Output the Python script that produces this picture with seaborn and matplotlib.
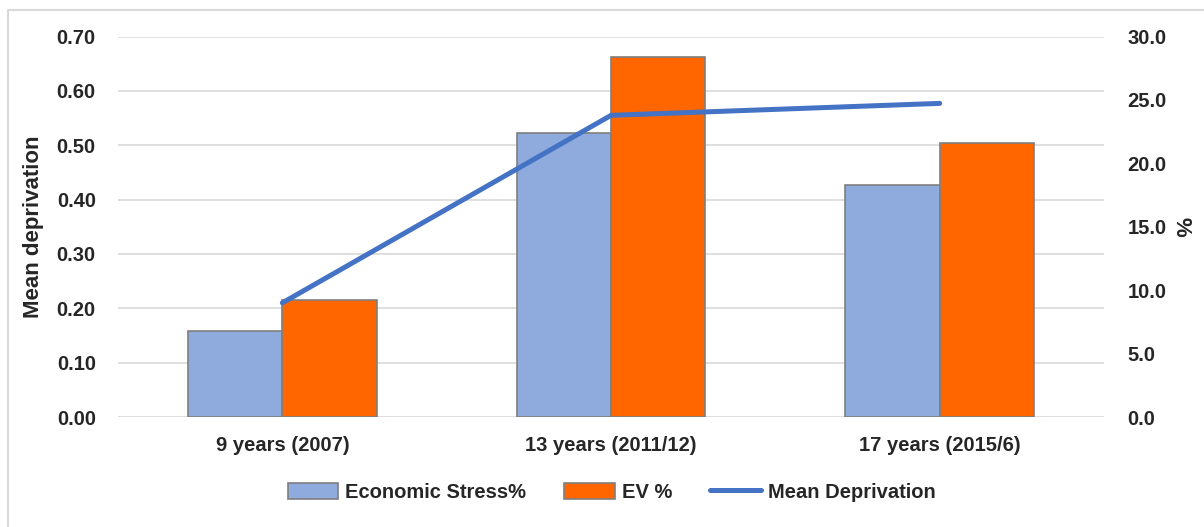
import matplotlib
matplotlib.use("Agg")
import matplotlib.pyplot as plt
import seaborn as sns
import pandas as pd
from matplotlib.patches import Patch
from matplotlib.lines import Line2D

# data
categories = ["9 years (2007)", "13 years (2011/12)", "17 years (2015/6)"]
economic_stress = [6.8, 22.4, 18.3]
ev_pct = [9.2, 28.4, 21.6]
mean_deprivation = [0.21, 0.555, 0.577]

series_names = ["Economic Stress%", "EV %"]
bar_colors = ["#8faadc", "#ff6600"]
line_color = "#4472c4"
pct_ticks = [0, 5, 10, 15, 20, 25, 30]
dep_ticks = [0.0, 0.1, 0.2, 0.3, 0.4, 0.5, 0.6, 0.7]

df = pd.DataFrame({
    "category": categories * 2,
    "series": [series_names[0]] * 3 + [series_names[1]] * 3,
    "value": economic_stress + ev_pct,
})

sns.set_theme(style="white")
plt.rcParams["font.family"] = ["Liberation Sans", "DejaVu Sans"]
plt.rcParams["font.weight"] = "bold"
FS = 14.5

fig = plt.figure(figsize=(12.04, 5.27), dpi=100)

# bottom layer: mean deprivation scale, ticks on the left, gridlines
ax = fig.add_axes([0.098, 0.2087, 0.819, 0.722])
# middle layer: bars on the % scale, ticks on the right
axb = ax.twinx()
# top layer: the mean deprivation line
axl = ax.twinx()
ax.set_zorder(0)
axb.set_zorder(1)
axl.set_zorder(2)
axb.patch.set_visible(False)
axl.patch.set_visible(False)

ax.set_ylim(0, 0.70)
ax.set_yticks(dep_ticks)
ax.set_yticklabels([f"{v:.2f}" for v in dep_ticks], fontweight="bold")
ax.set_ylabel("Mean deprivation", fontsize=16, fontweight="bold", labelpad=9)
ax.grid(axis="y", color="#d9d9d9", linewidth=1.2)
ax.grid(axis="x", visible=False)
ax.tick_params(axis="y", length=0, pad=16, labelsize=FS)

sns.barplot(data=df, x="category", y="value", hue="series", order=categories,
            hue_order=series_names, palette=bar_colors, width=0.574,
            edgecolor="#7f7f7f", linewidth=1.2, saturation=1, ax=axb, legend=False)
axb.set_xlim(-0.5, 2.5)
axb.set_ylim(0, 30)
axb.set_yticks(pct_ticks)
axb.set_yticklabels([f"{v:.1f}" for v in pct_ticks], fontweight="bold")
axb.set_ylabel("%", fontsize=16, fontweight="bold", rotation=270, labelpad=18)
axb.set_xlabel("")
axb.grid(False)
axb.tick_params(axis="y", length=0, pad=17, labelsize=FS)

ax.set_xlim(-0.5, 2.5)
ax.set_xticks(range(len(categories)))
ax.set_xticklabels(categories, fontweight="bold")
ax.tick_params(axis="x", length=0, pad=14, labelsize=FS)

sns.lineplot(x=list(range(len(categories))), y=mean_deprivation, color=line_color,
             linewidth=3.6, ax=axl)
axl.set_xlim(-0.5, 2.5)
axl.set_ylim(0, 0.70)
axl.set_yticks([])
axl.set_ylabel("")
axl.grid(False)

for a in (ax, axb, axl):
    for s in a.spines.values():
        s.set_visible(False)
axb.tick_params(axis="x", bottom=False, labelbottom=False)
axl.tick_params(axis="x", bottom=False, labelbottom=False)

handles = [
    Patch(facecolor=bar_colors[0], edgecolor="#7f7f7f", linewidth=1.2),
    Patch(facecolor=bar_colors[1], edgecolor="#7f7f7f", linewidth=1.2),
    Line2D([0], [0], color=line_color, linewidth=3.6),
]
fig.legend(handles, series_names + ["Mean Deprivation"], loc="center",
           bbox_to_anchor=(0.508, 0.066), ncol=3, frameon=False,
           prop={"size": FS, "weight": "bold"}, handlelength=2.5,
           handleheight=0.85, handletextpad=0.35, columnspacing=1.9)

# chart-area border: only the left and top edges show in the crop
fig.add_artist(Line2D([8 / 1204, 8 / 1204, 1.0], [0.0, 1 - 10 / 527, 1 - 10 / 527],
                      transform=fig.transFigure, color="#d9d9d9", linewidth=1.5))

fig.savefig("out.png", dpi=100)
